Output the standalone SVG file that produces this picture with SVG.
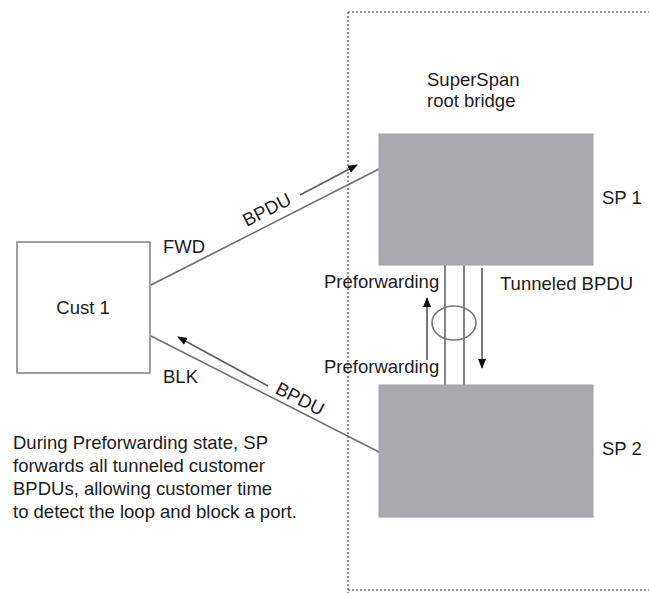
<svg xmlns="http://www.w3.org/2000/svg" width="649" height="593" viewBox="0 0 649 593">
<defs>
<style>
text{font-family:"Liberation Sans",Arial,sans-serif;font-size:18.5px;fill:#1c1c1c}
.sp{fill:#a9aaae;stroke:#a0a1a5;stroke-width:1}
.link{stroke:#707070;stroke-width:1.7;fill:none}
.arr{stroke:#606060;stroke-width:1.7;fill:none;marker-end:url(#ah)}
.dot{stroke:#777;stroke-width:1.6;stroke-dasharray:2 2;fill:none}
</style>
<marker id="ah" viewBox="0 0 10 8" refX="9" refY="4" markerWidth="10" markerHeight="8" markerUnits="userSpaceOnUse" orient="auto">
<path d="M0,0 L10,4 L0,8 Z" fill="#111"/>
</marker>
</defs>
<rect width="649" height="593" fill="#fff"/>
<g id="boundary">
<path class="dot" d="M348,12 V593 M348,12 H649 M348,590 H649"/>
</g>
<g id="connectors">
<line class="link" x1="151" y1="285" x2="379" y2="169"/>
<line class="link" x1="151" y1="336" x2="379" y2="452"/>
<line class="link" x1="445" y1="265" x2="445" y2="385"/>
<line class="link" x1="464" y1="265" x2="464" y2="385"/>
<ellipse cx="454" cy="323" rx="22" ry="17" fill="none" stroke="#777" stroke-width="1.6"/>
<line class="arr" x1="300" y1="195" x2="357" y2="165"/>
<line class="arr" x1="268" y1="386" x2="178" y2="337"/>
<line class="arr" x1="427" y1="360" x2="427" y2="298"/>
<line class="arr" x1="482" y1="268" x2="482" y2="368"/>
<text transform="translate(267,210) rotate(-27)" text-anchor="middle" y="6">BPDU</text>
<text transform="translate(300,399) rotate(27)" text-anchor="middle" y="6">BPDU</text>
<text x="163" y="253">FWD</text>
<text x="163" y="383">BLK</text>
<text x="324" y="288">Preforwarding</text>
<text x="324" y="373">Preforwarding</text>
<text x="500" y="290">Tunneled BPDU</text>
</g>
<g id="cust1">
<rect x="17" y="242" width="133" height="131" fill="#fff" stroke="#888" stroke-width="1.6"/>
<text x="83" y="314" text-anchor="middle">Cust 1</text>
</g>
<g id="sp1">
<rect class="sp" x="379" y="134" width="214" height="131"/>
<text x="602" y="204">SP 1</text>
<text x="427" y="86">SuperSpan</text>
<text x="427" y="107">root bridge</text>
</g>
<g id="sp2">
<rect class="sp" x="379" y="385" width="214" height="132"/>
<text x="602" y="455">SP 2</text>
</g>
<g id="note">
<text x="13" y="449">During Preforwarding state, SP</text>
<text x="13" y="472">forwards all tunneled customer</text>
<text x="13" y="495">BPDUs, allowing customer time</text>
<text x="13" y="518">to detect the loop and block a port.</text>
</g>
</svg>
